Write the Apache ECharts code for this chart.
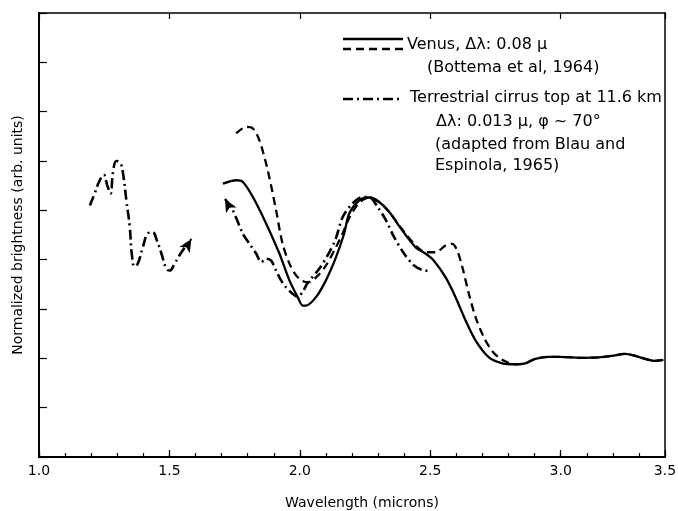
<!DOCTYPE html>
<html><head><meta charset="utf-8">
<script src="https://cdn.jsdelivr.net/npm/echarts@6/dist/echarts.min.js"></script>
<style>html,body{margin:0;padding:0;background:#fff}#c{width:678px;height:511px}</style>
</head><body><div id="c"></div>
<script>
// tick labels of the major wavelength ticks (last one sits on the right frame)
const xTickLabels = ['1.0', '1.5', '2.0', '2.5', '3.0', '3.5'];

// Venus, solid curve (wavelength, brightness)
const venusSolid = [
  [1.705,5.54],[1.756,5.61],[1.781,5.58],[1.820,5.27],[1.871,4.73],[1.922,4.12],
  [1.960,3.58],[1.992,3.24],[2.011,3.07],[2.024,3.07],[2.062,3.24],[2.100,3.58],
  [2.138,4.04],[2.170,4.53],[2.189,4.93],[2.228,5.20],[2.266,5.26],[2.304,5.17],
  [2.342,4.97],[2.393,4.59],[2.444,4.25],[2.483,4.12],[2.514,3.98],[2.559,3.64],
  [2.597,3.24],[2.636,2.76],[2.674,2.36],[2.725,2.02],[2.776,1.90]
];
// Venus, dashed curve
const venusDashed = [
  [1.756,6.56],[1.794,6.69],[1.820,6.66],[1.845,6.42],[1.877,5.81],[1.909,5.00],
  [1.934,4.32],[1.966,3.85],[1.998,3.61],[2.030,3.54],[2.062,3.64],[2.100,3.88],
  [2.138,4.25],[2.164,4.53],[2.189,4.84],[2.228,5.16],[2.266,5.26],[2.304,5.17],
  [2.342,4.97],[2.393,4.61],[2.444,4.29],[2.483,4.15],[2.521,4.15],[2.559,4.29],
  [2.584,4.32],[2.603,4.19],[2.623,3.85],[2.648,3.31],[2.674,2.83],[2.706,2.42],
  [2.737,2.15],[2.769,1.99],[2.800,1.91]
];
// common tail of both Venus curves
const venusTail = [
  [2.827,1.88],[2.865,1.90],[2.903,1.99],[2.954,2.03],[2.992,2.03],[3.043,2.02],
  [3.094,2.01],[3.145,2.02],[3.196,2.05],[3.247,2.09],[3.286,2.05],[3.324,1.99],
  [3.362,1.95],[3.394,1.97]
];
// Terrestrial cirrus, short-wave segment
const cirrusA = [
  [1.195,5.10],[1.214,5.35],[1.232,5.60],[1.248,5.72],[1.262,5.50],[1.274,5.34],
  [1.284,5.78],[1.297,6.00],[1.312,5.96],[1.322,5.75],[1.335,5.20],[1.348,4.66],
  [1.356,4.10],[1.367,3.86],[1.379,3.92],[1.398,4.25],[1.417,4.53],[1.435,4.56],
  [1.452,4.39],[1.469,4.13],[1.488,3.82],[1.501,3.78],[1.520,3.92],[1.546,4.15],
  [1.584,4.42]
];
// Terrestrial cirrus, long-wave segment
const cirrusB = [
  [1.713,5.23],[1.743,5.00],[1.781,4.53],[1.807,4.32],[1.833,4.12],[1.852,3.95],
  [1.871,4.02],[1.890,3.98],[1.909,3.78],[1.928,3.58],[1.947,3.44],[1.972,3.31],
  [1.990,3.25],[2.010,3.34],[2.029,3.52],[2.075,3.82],[2.113,4.15],[2.138,4.43],
  [2.164,4.86],[2.202,5.14],[2.240,5.27],[2.266,5.27],[2.298,5.07],[2.330,4.80],
  [2.361,4.46],[2.400,4.12],[2.438,3.88],[2.470,3.79],[2.502,3.77]
];

const FONT = 'DejaVu Sans';
const dashDot = [10, 4, 2, 4];

function withArrow(arr, idx, rot) {
  return arr.map((p, i) => i === idx
    ? { value: p, symbol: 'arrow', symbolSize: [9, 13], symbolRotate: rot, itemStyle: { color: '#000' } }
    : { value: p, symbol: 'none' });
}

const chart = echarts.init(document.getElementById('c'), null, { renderer: 'canvas' });
chart.setOption({
  animation: false,
  backgroundColor: '#fff',
  grid: { left: 39, right: 13, top: 13, bottom: 54, containLabel: false, outerBoundsMode: 'none' },
  xAxis: [
    { type: 'value', min: 1, max: 3.4, interval: 0.1, position: 'bottom',
      axisLine: { show: true, lineStyle: { color: '#000', width: 2 } },
      axisTick: { show: true, inside: true, length: 4, lineStyle: { color: '#000', width: 1.2 } },
      axisLabel: { show: false }, splitLine: { show: false } },
    { type: 'value', min: 1, max: 3.4, interval: 0.5, position: 'bottom',
      axisLine: { show: false },
      axisTick: { show: true, inside: true, length: 7, lineStyle: { color: '#000', width: 1.2 } },
      axisLabel: { show: true, margin: 7, color: '#000', fontFamily: FONT, fontSize: 14,
        formatter: (v, i) => xTickLabels[i] },
      splitLine: { show: false },
      name: 'Wavelength (microns)', nameLocation: 'middle', nameGap: 39,
      nameTextStyle: { color: '#000', fontFamily: FONT, fontSize: 14, padding: [0, 0, 0, 20] } },
    { type: 'value', min: 1, max: 3.4, interval: 0.5, position: 'top',
      axisLine: { show: true, lineStyle: { color: '#000', width: 1.5 } },
      axisTick: { show: true, inside: true, length: 6, lineStyle: { color: '#000', width: 1.2 } },
      axisLabel: { show: false }, splitLine: { show: false } }
  ],
  yAxis: [
    { type: 'value', min: 0, max: 9, interval: 1, position: 'left',
      axisLine: { show: true, lineStyle: { color: '#000', width: 2 } },
      axisTick: { show: true, inside: true, length: 8, lineStyle: { color: '#000', width: 1.2 } },
      axisLabel: { show: false }, splitLine: { show: false },
      name: 'Normalized brightness (arb. units)', nameLocation: 'middle', nameGap: 14,
      nameTextStyle: { color: '#000', fontFamily: FONT, fontSize: 14 } },
    { type: 'value', min: 0, max: 9, interval: 1, position: 'right',
      axisLine: { show: true, lineStyle: { color: '#000', width: 1.5 } },
      axisTick: { show: false }, axisLabel: { show: false }, splitLine: { show: false } }
  ],
  series: [
    { type: 'line', name: 'Venus', data: venusSolid.concat(venusTail), showSymbol: false, smooth: 0.3,
      lineStyle: { color: '#000', width: 2.3, type: 'solid' } },
    { type: 'line', name: 'Venus dashed', data: venusDashed.concat(venusTail), showSymbol: false, smooth: 0.3,
      lineStyle: { color: '#000', width: 2.3, type: [8, 5] } },
    { type: 'line', name: 'Cirrus', data: withArrow(cirrusA, cirrusA.length - 1, -31), showSymbol: true, smooth: 0.45,
      lineStyle: { color: '#000', width: 2.6, type: dashDot } },
    { type: 'line', name: 'Cirrus', data: withArrow(cirrusB, 0, 29), showSymbol: true, smooth: 0.3,
      lineStyle: { color: '#000', width: 2.6, type: dashDot } }
  ],
  graphic: [
    { type: 'line', shape: { x1: 343, y1: 39, x2: 403, y2: 39 }, style: { stroke: '#000', lineWidth: 2.3 } },
    { type: 'line', shape: { x1: 343, y1: 49, x2: 403, y2: 49 }, style: { stroke: '#000', lineWidth: 2.3, lineDash: [8, 5] } },
    { type: 'line', shape: { x1: 343, y1: 99, x2: 403, y2: 99 }, style: { stroke: '#000', lineWidth: 2.6, lineDash: dashDot } },
    { type: 'text', x: 407, y: 45, style: { text: 'Venus, Δλ: 0.08 μ', fill: '#000', fontFamily: FONT, fontSize: 16, verticalAlign: 'middle' } },
    { type: 'text', x: 427, y: 68, style: { text: '(Bottema et al, 1964)', fill: '#000', fontFamily: FONT, fontSize: 16, verticalAlign: 'middle' } },
    { type: 'text', x: 410, y: 98, style: { text: 'Terrestrial cirrus top at 11.6 km', fill: '#000', fontFamily: FONT, fontSize: 16, verticalAlign: 'middle' } },
    { type: 'text', x: 436, y: 122, style: { text: 'Δλ: 0.013 μ, φ ~ 70°', fill: '#000', fontFamily: FONT, fontSize: 16, verticalAlign: 'middle' } },
    { type: 'text', x: 435, y: 145, style: { text: '(adapted from Blau and', fill: '#000', fontFamily: FONT, fontSize: 16, verticalAlign: 'middle' } },
    { type: 'text', x: 435, y: 166, style: { text: 'Espinola, 1965)', fill: '#000', fontFamily: FONT, fontSize: 16, verticalAlign: 'middle' } }
  ]
});
</script></body></html>
